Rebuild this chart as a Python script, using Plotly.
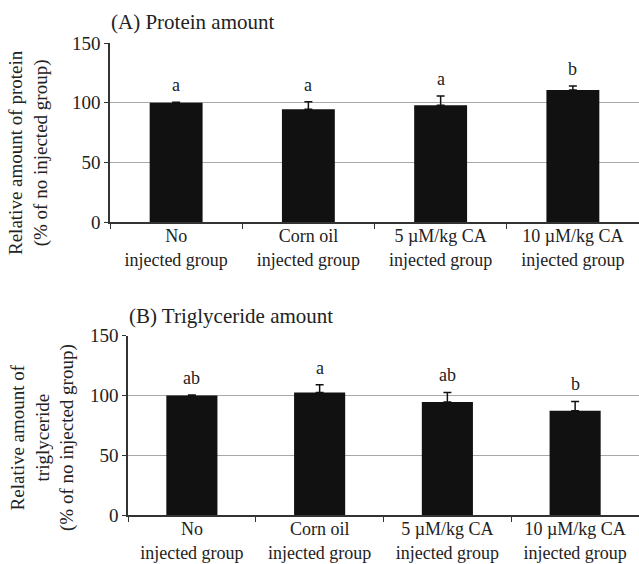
import plotly.graph_objects as go

categories = ["No<br>injected group", "Corn oil<br>injected group",
              "5 µM/kg CA<br>injected group", "10 µM/kg CA<br>injected group"]

protein_values = [100, 94.5, 97.8, 110.6]
protein_errors = [0.4, 6.3, 7.8, 3.4]
protein_letters = ["a", "a", "a", "b"]

tg_values = [100, 102.5, 94.5, 87.2]
tg_errors = [0.4, 6.5, 8.0, 7.8]
tg_letters = ["ab", "a", "ab", "b"]

y_ticks = [0, 50, 100, 150]

W, H = 639, 564
FONT = "Liberation Serif, Times New Roman, serif"
TXT = "#222222"


def px(x):
    return x / W


def py(y):
    return 1 - y / H


fig = go.Figure()

for vals, errs, xa, ya in [(protein_values, protein_errors, "x", "y"),
                           (tg_values, tg_errors, "x2", "y2")]:
    fig.add_trace(go.Bar(
        x=categories, y=vals, xaxis=xa, yaxis=ya,
        marker=dict(color="#111111", line=dict(width=0)), width=0.4,
        error_y=dict(type="data", array=errs, arrayminus=[0] * len(errs), symmetric=False,
                     color="#111111", thickness=1.5, width=4),
        showlegend=False))

annotations = []
for c, v, e, l in zip(categories, protein_values, protein_errors, protein_letters):
    annotations.append(dict(x=c, y=v + e, xref="x", yref="y", text=l, showarrow=False,
                            yanchor="bottom", yshift=5, font=dict(family=FONT, size=18, color=TXT)))
for c, v, e, l in zip(categories, tg_values, tg_errors, tg_letters):
    annotations.append(dict(x=c, y=v + e, xref="x2", yref="y2", text=l, showarrow=False,
                            yanchor="bottom", yshift=5, font=dict(family=FONT, size=18, color=TXT)))

annotations.append(dict(x=px(109), y=py(22.5), xref="paper", yref="paper",
                        text="(A) Protein amount", showarrow=False, xanchor="left", yanchor="middle",
                        font=dict(family=FONT, size=21, color=TXT)))
annotations.append(dict(x=px(127), y=py(315.5), xref="paper", yref="paper",
                        text="(B) Triglyceride amount", showarrow=False, xanchor="left", yanchor="middle",
                        font=dict(family=FONT, size=21, color=TXT)))
annotations.append(dict(x=px(29), y=py(153), xref="paper", yref="paper",
                        text="Relative amount of protein<br>(% of no injected group)",
                        textangle=-90, showarrow=False, xanchor="center", yanchor="middle",
                        font=dict(family=FONT, size=19, color=TXT)))
annotations.append(dict(x=px(42), y=py(438), xref="paper", yref="paper",
                        text="Relative amount of<br>triglyceride<br>(% of no injected group)",
                        textangle=-90, showarrow=False, xanchor="center", yanchor="middle",
                        font=dict(family=FONT, size=19, color=TXT)))

xcommon = dict(type="category", showline=True, linecolor="#333333", linewidth=1.5,
               ticks="outside", tickson="boundaries", ticklen=5, tickcolor="#333333",
               showgrid=False, tickfont=dict(family=FONT, size=18, color=TXT),
               ticklabelstandoff=-3, automargin=False)
ycommon = dict(range=[0, 150], tickvals=y_ticks, showline=True, linecolor="#333333", linewidth=1.5,
               ticks="outside", ticklen=4, tickcolor="#333333", showgrid=True,
               gridcolor="#a8a8a8", gridwidth=1.2, zeroline=False,
               tickfont=dict(family=FONT, size=19, color=TXT), automargin=False)

fig.update_layout(
    width=W, height=H,
    margin=dict(l=0, r=0, t=0, b=0),
    paper_bgcolor="white", plot_bgcolor="white",
    xaxis=dict(domain=[px(110), 1], anchor="y", **xcommon),
    yaxis=dict(domain=[py(222), py(43)], anchor="x", **ycommon),
    xaxis2=dict(domain=[px(128), 1], anchor="y2", **xcommon),
    yaxis2=dict(domain=[py(515), py(335.7)], anchor="x2", **ycommon),
    annotations=annotations,
)

fig.write_html("out.html", config={"displayModeBar": False},
               post_script="document.body.style.margin='0';")
